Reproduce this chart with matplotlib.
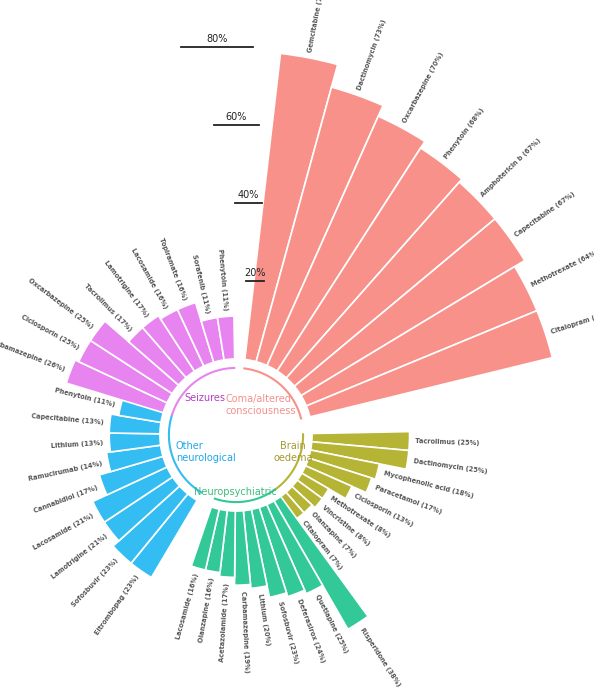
import numpy as np
import matplotlib
matplotlib.use('Agg')
import matplotlib.pyplot as plt
from matplotlib.lines import Line2D

# === Data (percent of reports) ===
coma_names = ['Gemcitabine', 'Dactinomycin', 'Oxcarbazepine', 'Phenytoin', 'Amphotericin b',
              'Capecitabine', 'Methotrexate', 'Citalopram']
coma_vals = [79, 73, 70, 68, 67, 67, 64, 64]

oedema_names = ['Tacrolimus', 'Dactinomycin', 'Mycophenolic acid', 'Paracetamol', 'Ciclosporin',
                'Methotrexate', 'Vincristine', 'Olanzapine', 'Citalopram']
oedema_vals = [25, 25, 18, 17, 13, 8, 8, 7, 7]

neuro_names = ['Risperidone', 'Quetiapine', 'Deferasirox', 'Sofosbuvir', 'Lithium',
               'Carbamazepine', 'Acetazolamide', 'Olanzapine', 'Lacosamide']
neuro_vals = [38, 25, 24, 23, 20, 19, 17, 16, 16]

other_names = ['Eltrombopag', 'Sofosbuvir', 'Lamotrigine', 'Lacosamide', 'Cannabidiol',
               'Ramucirumab', 'Lithium', 'Capecitabine', 'Phenytoin']
other_vals = [23, 23, 21, 21, 17, 14, 13, 13, 11]

seiz_names = ['Carbamazepine', 'Ciclosporin', 'Oxcarbazepine', 'Tacrolimus', 'Lamotrigine',
              'Lacosamide', 'Topiramate', 'Sorafenib', 'Phenytoin']
seiz_vals = [26, 25, 25, 17, 17, 16, 16, 11, 11]

scale_ticks = [20, 40, 60, 80]

# === Layout (pixels) ===
W, H = 594, 687
CX, CY = 236, 435          # centre of the circle
PX = 3.9                   # pixels per percent
R0 = 19.5                  # inner radius (percent units)
RPX = 450

# group: names, values, first angle, step (deg clockwise from north), colour
groups = [
    (coma_names, coma_vals, 11, 8.7, '#F8918A'),
    (oedema_names, oedema_vals, 92, 6.25, '#B5B435'),
    (neuro_names, neuro_vals, 147, 6.1, '#33C897'),
    (other_names, other_vals, 215, 8.6, '#33BDF2'),
    (seiz_names, seiz_vals, 291, 8.0, '#E784F0'),
]

fig = plt.figure(figsize=(W / 100, H / 100), dpi=100)
ax = fig.add_axes([(CX - RPX) / W, (H - CY - RPX) / H, 2 * RPX / W, 2 * RPX / H],
                  projection='polar')
ax.set_theta_zero_location('N')
ax.set_theta_direction(-1)
ax.set_ylim(0, RPX / PX)
ax.axis('off')

for names, vals, a0, step, col in groups:
    angs = a0 + step * np.arange(len(vals))
    th = np.deg2rad(angs)
    ax.bar(th, vals, width=np.deg2rad(step), bottom=R0, color=col,
           edgecolor='white', linewidth=1.2)
    # inner ring arc
    arc = np.linspace(np.deg2rad(a0 - step / 2 + 0.5), np.deg2rad(angs[-1] + step / 2 - 0.5), 60)
    ax.plot(arc, np.full_like(arc, R0 - 2.3), color=col, lw=1.5)
    for a, t, n, v in zip(angs, th, names, vals):
        if a < 180:
            rot, ha = 90 - a, 'left'
        else:
            rot, ha = 270 - a, 'right'
        ax.text(t, R0 + v + 1.5, f'{n} ({v}%)', rotation=rot, rotation_mode='anchor',
                ha=ha, va='center', fontsize=4.8, fontweight='bold', color='#555555')

# scale bars
lens = {20: 18, 40: 27, 60: 45, 80: 72}
for v in scale_ticks:
    y = CY - PX * (R0 + v)
    x1 = 264 - (lens[v] - 18) * 0.2
    x0 = x1 - lens[v]
    fig.add_artist(Line2D([x0 / W, x1 / W], [1 - y / H, 1 - y / H], color='#222222', lw=1.3))
    fig.text((x0 + x1) / 2 / W, 1 - (y - 3) / H, f'{v}%', ha='center', va='bottom',
             fontsize=7, color='#222222')

# group labels in the centre
def ptext(x, y, s, col, ha='left'):
    fig.text(x / W, 1 - y / H, s, ha=ha, va='center', fontsize=7, color=col, linespacing=1.3)

ptext(184, 398, 'Seizures', '#B440C4')
ptext(226, 405, 'Coma/altered\nconsciousness', '#F4908C')
ptext(176, 452, 'Other\nneurological', '#1EA8E8')
ptext(293, 452, 'Brain\noedema', '#A59A2E', ha='center')
ptext(235, 492, 'Neuropsychiatric', '#3CBC7C', ha='center')

fig.savefig('out.png', dpi=100)
